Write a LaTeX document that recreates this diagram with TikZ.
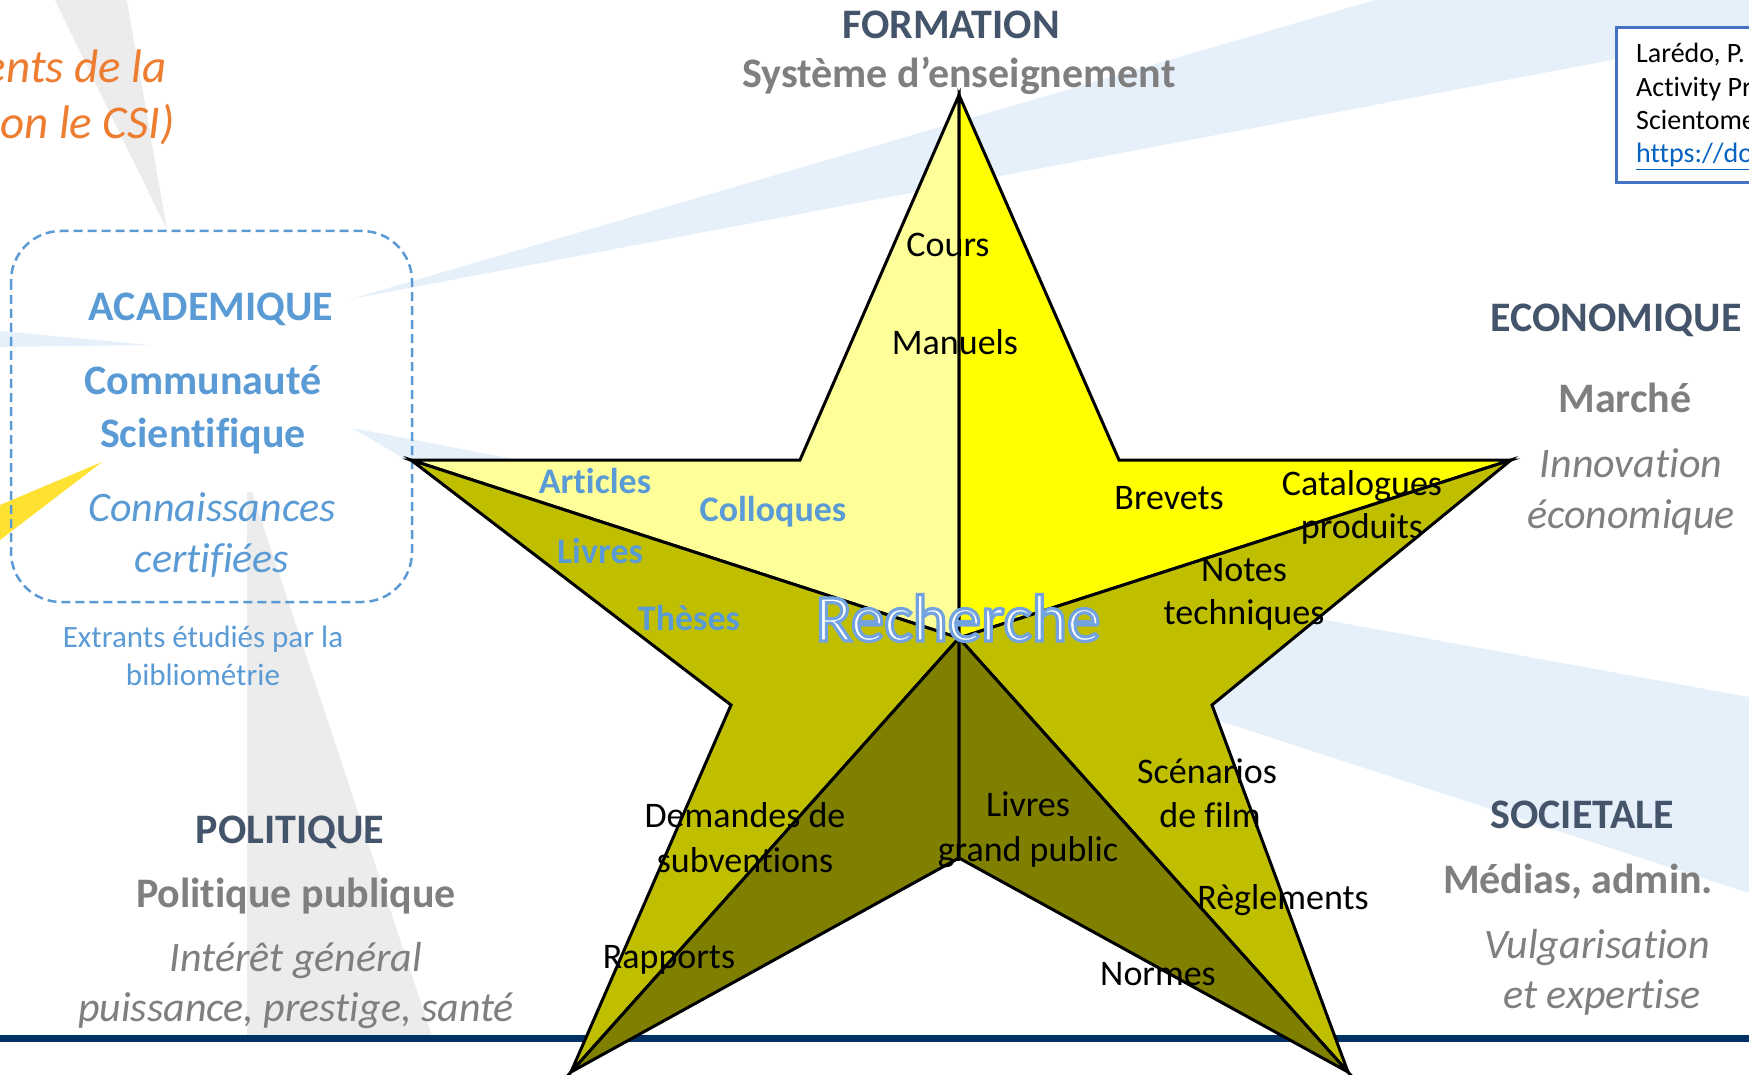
\documentclass[tikz,border=0pt]{standalone}
\usepackage{fontspec}
\setmainfont{Carlito}[Ligatures=NoCommon]
\definecolor{lightyel}{HTML}{FFFF99}
\definecolor{yel}{HTML}{FFFF00}
\definecolor{olive1}{HTML}{BFBF00}
\definecolor{olive2}{HTML}{808000}
\definecolor{rayblue}{RGB}{230,240,250}
\definecolor{raygrey}{RGB}{236,236,236}
\definecolor{rayyellow}{RGB}{255,225,50}
\definecolor{navy}{RGB}{0,50,102}
\definecolor{slate}{HTML}{44546A}
\definecolor{greytxt}{HTML}{7F7F7F}
\definecolor{bluetxt}{HTML}{5B9BD5}
\definecolor{orangetxt}{HTML}{ED7D31}
\definecolor{refblue}{HTML}{4472C4}
\definecolor{linkblue}{HTML}{0563C1}
\newcommand{\glowtext}[1]{{\color{white}\special{pdf:literal direct 2 Tr 3.2 w 0.45 0.64 0.87 RG}#1\special{pdf:literal direct 0 Tr}}}
\tikzset{
  hd/.style={font=\fontsize{42}{50}\selectfont\bfseries, text=slate, inner sep=0pt, anchor=base},
  sbg/.style={font=\fontsize{42}{50}\selectfont\bfseries, text=greytxt, inner sep=0pt, anchor=base},
  itg/.style={font=\fontsize{42}{50}\selectfont\itshape, text=greytxt, inner sep=0pt, anchor=base},
  ahd/.style={font=\fontsize{42}{50}\selectfont\bfseries, text=bluetxt, inner sep=0pt, anchor=base},
  ait/.style={font=\fontsize{42}{50}\selectfont\itshape, text=bluetxt, inner sep=0pt, anchor=base},
  smallblue/.style={font=\fontsize{31}{38}\selectfont, text=bluetxt, inner sep=0pt, anchor=base},
  lbl/.style={font=\fontsize{36}{43}\selectfont, text=black, inner sep=0pt, anchor=base},
  blbl/.style={font=\fontsize{36}{43}\selectfont\bfseries, text=bluetxt, inner sep=0pt, anchor=base},
  orng/.style={font=\fontsize{47}{55}\selectfont\itshape, text=orangetxt, inner sep=0pt, anchor=base east},
  reftxt/.style={font=\fontsize{28}{33}\selectfont, text=black, inner sep=0pt, anchor=base west},
  facet/.style={draw=black, line width=3pt, line join=miter},
}
\begin{document}
\begin{tikzpicture}[x=1pt,y=-1pt]
\useasboundingbox (0,0) rectangle (1749,1075);
\clip (0,0) rectangle (1749,1075);
\fill[white] (0,0) rectangle (1749,1075);
% background rays
\fill[raygrey] (50,-10) -- (125,-10) -- (167,230) -- cycle;
\fill[rayblue] (351,299) -- (1375,0) -- (1749,0) -- (1749,34) -- cycle;
\fill[rayblue] (0,331) -- (150,345) -- (0,347) -- cycle;
\fill[rayblue] (352,428) -- (560,468) -- (410,462) -- cycle;
\fill[rayblue] (1100,579) -- (1749,697) -- (1749,893) -- (1100,682) -- cycle;
\fill[rayyellow] (0,505) -- (102,462) -- (0,540) -- cycle;
\fill[raygrey] (247,492) -- (252,492) -- (432,1036) -- (247,1036) -- cycle;
% navy base line
\fill[navy] (0,1035) rectangle (1749,1042);
% dashed academic box
\draw[bluetxt, line width=2.5pt, dash pattern=on 9pt off 5pt, rounded corners=50pt] (11,231) rectangle (412,602);
% reference box
\draw[refblue, line width=3pt, fill=white] (1616,28) rectangle (1770,183);
\node[reftxt] (ref1) at (1636,63) {Larédo, P.};
\node[reftxt] (ref2) at (1636,97) {Activity Pr};
\node[reftxt] (ref3) at (1636,130) {Scientome};
\node[reftxt, text=linkblue] (ref4) at (1636,163) {\underline{https://do}};
% star
\coordinate (C) at (959,638);
\coordinate (A) at (959,95);
\coordinate (TLi) at (800,460);
\coordinate (Lt) at (411,460);
\coordinate (LLi) at (731,705);
\coordinate (BLt) at (571,1072);
\coordinate (Bi) at (959,858);
\coordinate (BRt) at (1348,1072);
\coordinate (LRi) at (1212,705);
\coordinate (Rt) at (1511,460);
\coordinate (TRi) at (1119,460);
\filldraw[facet, fill=lightyel] (A) -- (TLi) -- (Lt) -- (C) -- cycle;
\filldraw[facet, fill=yel] (A) -- (TRi) -- (Rt) -- (C) -- cycle;
\filldraw[facet, fill=olive1] (Lt) -- (LLi) -- (BLt) -- (C) -- cycle;
\filldraw[facet, fill=olive1] (Rt) -- (LRi) -- (BRt) -- (C) -- cycle;
\filldraw[facet, fill=olive2] (C) -- (BLt) -- (Bi) -- cycle;
\filldraw[facet, fill=olive2] (C) -- (BRt) -- (Bi) -- cycle;
% orange partial title
\node[orng] (or1) at (167,83) {ents de la};
\node[orng] (or2) at (175,139) {on le CSI)};
% sphere labels
\node[hd] (formation) at (951,39) {FORMATION};
\node[sbg] (systeme) at (959,88) {Système d’enseignement};
\node[ahd] (academique) at (211,321) {ACADEMIQUE};
\node[ahd] (commu) at (203,395) {Communauté};
\node[ahd] (scient) at (203,447) {Scientifique};
\node[ait] (connais) at (212,521) {Connaissances};
\node[ait] (certif) at (212,572) {certifiées};
\node[smallblue] (extr1) at (203,647) {Extrants étudiés par la};
\node[smallblue] (extr2) at (203,685) {bibliométrie};
\node[hd] (econ) at (1616,332) {ECONOMIQUE};
\node[sbg] (marche) at (1625,412) {Marché};
\node[itg] (innov) at (1631,477) {Innovation};
\node[itg] (econo) at (1631,528) {économique};
\node[hd] (polit) at (290,843) {POLITIQUE};
\node[sbg] (polpub) at (296,907) {Politique publique};
\node[itg] (interet) at (296,971) {Intérêt général};
\node[itg] (puiss) at (296,1021) {puissance, prestige, santé};
\node[hd] (societ) at (1582,828) {SOCIETALE};
\node[sbg] (medias) at (1578,893) {Médias, admin.};
\node[itg] (vulg) at (1597,958) {Vulgarisation};
\node[itg] (expert) at (1602,1008) {et expertise};
% star labels
\node[lbl] (cours) at (948,257) {Cours};
\node[lbl] (manuels) at (955,355) {Manuels};
\node[lbl] (brevets) at (1169,509) {Brevets};
\node[lbl] (catal) at (1362,495) {Catalogues};
\node[lbl] (produits) at (1362,538) {produits};
\node[lbl] (notes) at (1244,581) {Notes};
\node[lbl] (techn) at (1244,624) {techniques};
\node[lbl] (scen) at (1207,783) {Scénarios};
\node[lbl] (film) at (1210,827) {de film};
\node[lbl] (regl) at (1283,909) {Règlements};
\node[lbl] (normes) at (1158,985) {Normes};
\node[lbl] (livgp) at (1028,816) {Livres};
\node[lbl] (grandp) at (1028,861) {grand public};
\node[lbl] (demandes) at (745,827) {Demandes de};
\node[lbl] (subv) at (745,872) {subventions};
\node[lbl] (rapports) at (669,968) {Rapports};
\node[blbl] (articles) at (595,493) {Articles};
\node[blbl] (colloq) at (773,521) {Colloques};
\node[blbl] (livres) at (600,563) {Livres};
\node[blbl] (theses) at (689,630) {Thèses};
\node[font=\fontsize{67}{78}\selectfont, inner sep=0pt, anchor=base] (rech) at (958,641) {\glowtext{Recherche}};
\end{tikzpicture}
\end{document}
